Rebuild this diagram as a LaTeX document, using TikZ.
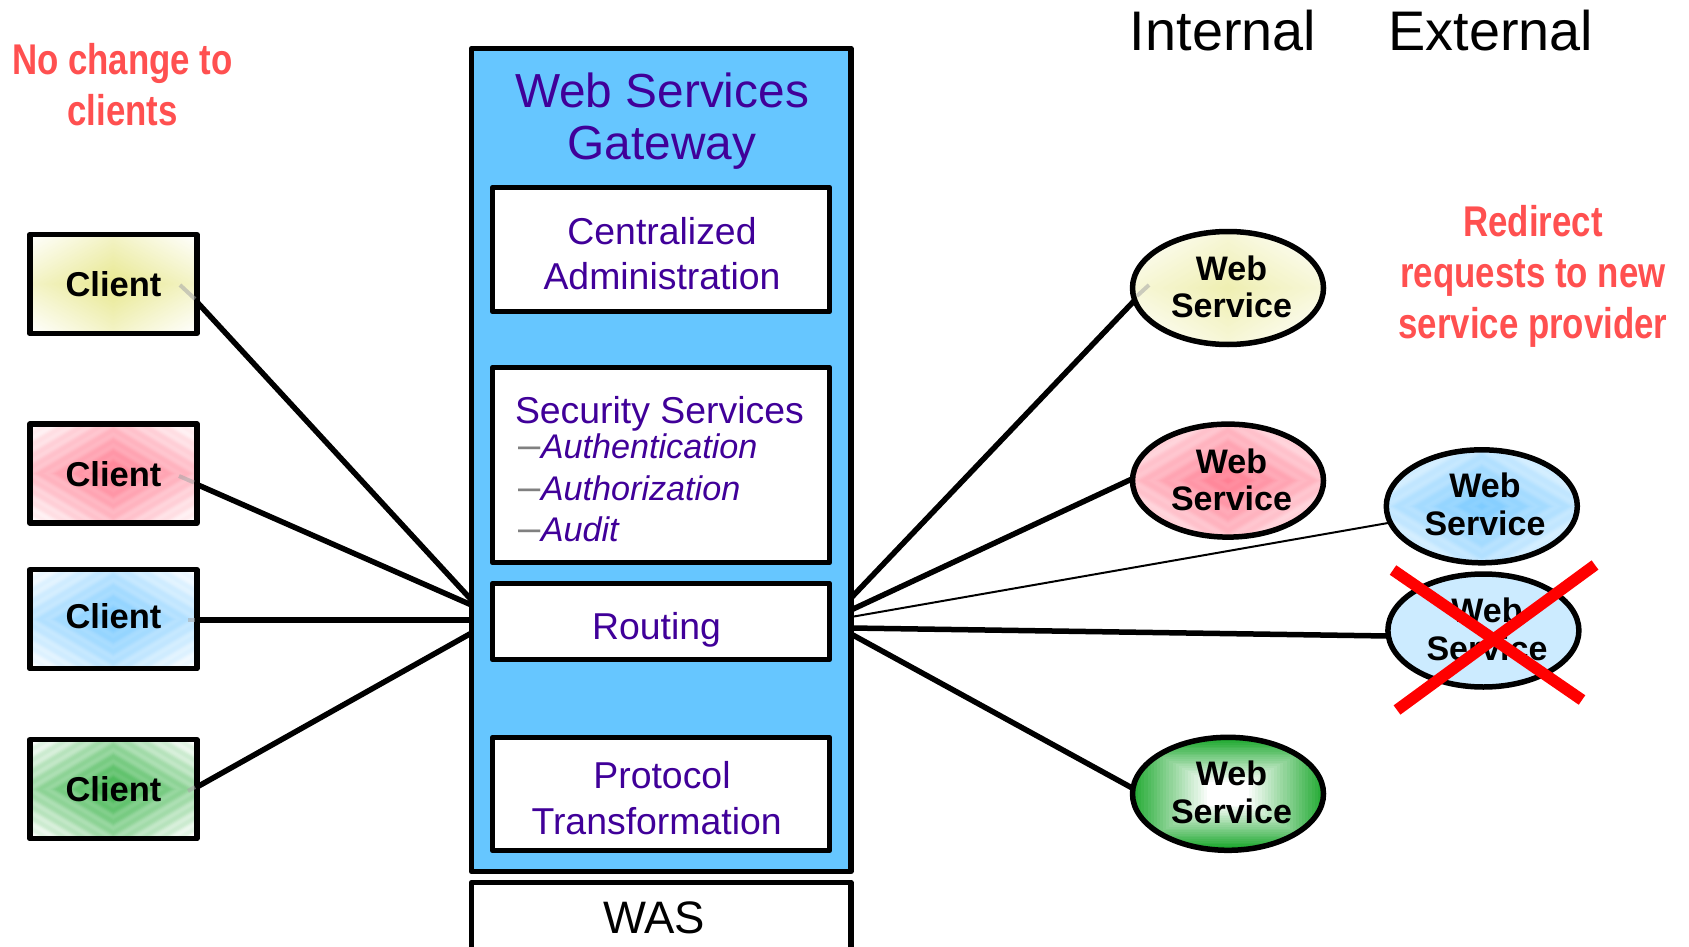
\documentclass[tikz,border=0pt]{standalone}
\usepackage{fontspec}
\setmainfont{Liberation Sans}
\newfontfamily\narrowfont[FakeStretch=0.81,BoldFont={Liberation Sans Bold}]{Liberation Sans}
\newcommand{\setfs}[2]{\fontsize{#1}{#2}\selectfont}
\definecolor{gwblue}{HTML}{66C6FF}
\definecolor{indigo}{HTML}{400099}
\definecolor{note}{HTML}{FF5050}
\definecolor{baseyellow}{HTML}{E8E890}
\definecolor{basered}{HTML}{FF8094}
\definecolor{baseblue}{HTML}{7FCCFF}
\definecolor{basegreen}{HTML}{22AA33}
\definecolor{flatblue}{HTML}{CCEBFF}
\newcommand{\diamondbands}[5]{%
  \begin{scope}[shift={(path picture bounding box.center)}]
  \foreach \k in {0,...,79}{%
    \pgfmathsetmacro\dd{2*(1-\k/80)}%
    \pgfmathsetmacro\pp{max(0,min(100,#4*(1-\dd/2)+#5*cos(\dd*1600)))}%
    \fill[#1!\pp!white] (\dd*#2,0)--(0,\dd*#3)--(-\dd*#2,0)--(0,-\dd*#3)--cycle;
  }%
  \end{scope}}
\newcommand{\rectbands}[3]{%
  \begin{scope}[shift={(path picture bounding box.center)}]
  \foreach \k in {0,...,24}{%
    \pgfmathsetmacro\ss{1-\k/24*0.78}%
    \pgfmathsetmacro\pp{100*(1-\k/24)}%
    \fill[#1!\pp!white] (-\ss*#2,-\ss*#3*.95) rectangle (\ss*#2,\ss*#3*.95);
  }%
  \end{scope}}
\tikzset{
  every node/.style={inner sep=0pt,outer sep=0pt},
  frame/.style={draw=black,line width=5.5pt,line join=round,rectangle,fill=white},
  clientbox/.style={frame,minimum width=167pt,minimum height=99pt},
  innerbox/.style={frame,minimum width=337pt},
  svc/.style={ellipse,draw=black,line width=5.5pt,minimum width=191pt,minimum height=113pt},
  boxlabel/.style={font=\bfseries\setfs{34.5}{38},text=black,align=center},
  gwtext/.style={text=indigo,align=center,font=\setfs{37.4}{45.5}},
  subtext/.style={text=indigo,anchor=base west,font=\itshape\setfs{34.2}{36}},
  notetext/.style={text=note,align=center,font=\narrowfont\bfseries\setfs{43}{51}},
  head/.style={text=black,anchor=base,font=\setfs{55.8}{60}},
  thick link/.style={draw=black,line width=5.5pt},
  thin link/.style={draw=black,line width=2pt},
  stub/.style={draw=gray!70,line width=4pt,opacity=.55},
  cross/.style={draw=red,line width=11.5pt}
}
\usetikzlibrary{shapes.geometric}
\begin{document}
\begin{tikzpicture}[x=1pt,y=-1pt]
\clip (0,0) rectangle (1689,947);
\useasboundingbox (0,0) rectangle (1689,947);

% notes and headings
\node[notetext] (notea) at (122.5,85) {No change to\\clients};
\node[notetext] (noteb) at (1533,276) {Redirect\\requests to new\\service provider};
\node[head] (internal) at (1223,51) {Internal};
\node[head] (external) at (1491,51) {External};

% gateway
\node[frame,fill=gwblue,minimum width=379.5pt,minimum height=823pt] (gw) at (661.25,460) {};
\node[frame,minimum width=379.5pt,minimum height=100pt] (wasbox) at (661.25,932.5) {};
\node[anchor=base,text=black,font=\setfs{45.5}{50}] (was) at (654,933) {WAS};
\node[text=indigo,align=center,font=\setfs{47.8}{52}] (gwtitle) at (662,121) {Web Services\\Gateway};

\node[innerbox,minimum height=124pt] (admin) at (661,249.5) {};
\node[gwtext] (admintext) at (662,253.5) {Centralized\\Administration};
\node[innerbox,minimum height=195pt] (sec) at (661,465) {};
\node[anchor=base west,text=indigo,font=\setfs{37.4}{40}] (sectitle) at (515,423) {Security Services};
\node[subtext] (s1) at (518.5,458.5) {{\color{gray}\upshape\setfs{40}{36}–}Authentication};
\node[subtext] (s2) at (518.5,500.6) {{\color{gray}\upshape\setfs{40}{36}–}Authorization};
\node[subtext] (s3) at (518.5,541.7) {{\color{gray}\upshape\setfs{40}{36}–}Audit};
\node[innerbox,minimum height=76pt] (route) at (661,621.5) {};
\node[anchor=base,text=indigo,font=\setfs{37.4}{40}] (routetext) at (656.6,639) {Routing};
\node[innerbox,minimum height=113pt] (proto) at (661,794) {};
\node[gwtext] (prototext) at (659.3,798) {\hspace*{5.4pt}Protocol\\Transformation\hspace*{5.4pt}};

% clients
\node[clientbox,path picture={\diamondbands{baseyellow}{83.5}{49.5}{100}{0}}] (c1) at (113.3,284) {};
\node[clientbox,path picture={\diamondbands{basered}{83.5}{49.5}{100}{5}}] (c2) at (113.3,473.5) {};
\node[clientbox,path picture={\diamondbands{baseblue}{83.5}{49.5}{100}{5}}] (c3) at (113.3,619.2) {};
\node[clientbox,path picture={\diamondbands{basegreen}{83.5}{49.5}{85}{5}}] (c4) at (113.3,789.2) {};
\node[boxlabel,anchor=base] (c1t) at (113.5,296) {Client};
\node[boxlabel,anchor=base] (c2t) at (113.5,486) {Client};
\node[boxlabel,anchor=base] (c3t) at (113.5,628) {Client};
\node[boxlabel,anchor=base] (c4t) at (113.5,801) {Client};

% services
\node[svc,path picture={\diamondbands{baseyellow}{96}{57}{70}{0}}] (w1) at (1228,288) {};
\node[svc,path picture={\diamondbands{basered}{96}{57}{100}{5}}] (w2) at (1228,480.6) {};
\node[svc,path picture={\diamondbands{baseblue}{96}{57}{100}{5}}] (w3) at (1481.8,506.3) {};
\node[svc,fill=flatblue] (w4) at (1483.4,630.5) {};
\node[svc,path picture={\rectbands{basegreen}{96}{57}}] (w5) at (1228,793.8) {};
\node[boxlabel,font=\bfseries\setfs{34}{37.5}] (w1t) at (1231.5,287) {Web\\Service};
\node[boxlabel,font=\bfseries\setfs{34}{37.5}] (w2t) at (1231.5,480) {Web\\Service};
\node[boxlabel,font=\bfseries\setfs{34}{37.5}] (w3t) at (1485,504.5) {Web\\Service};
\node[boxlabel,font=\bfseries\setfs{34}{37.5}] (w4t) at (1487,629.5) {Web\\Service};
\node[boxlabel,font=\bfseries\setfs{34}{37.5}] (w5t) at (1231.5,792.5) {Web\\Service};

% connector ends
\coordinate (c1e) at (197,302);
\coordinate (c2e) at (197,484.5);
\coordinate (c3e) at (197,620);
\coordinate (c4e) at (197,787);
\coordinate (gl1) at (471.5,600);
\coordinate (gl2) at (471.5,605);
\coordinate (gl3) at (471.5,620);
\coordinate (gl4) at (471.5,633);
\coordinate (gr1) at (851,598);
\coordinate (gr2) at (851,610);
\coordinate (gr3) at (851,617);
\coordinate (gr4) at (851,628);
\coordinate (gr5) at (851,634);
\coordinate (w1w) at (1134,301);
\coordinate (w2w) at (1134,478);
\coordinate (w3w) at (1388,523);
\coordinate (w4w) at (1388,636);
\coordinate (w5w) at (1134,789);
\coordinate (s1a) at (180,285);
\coordinate (s1b) at (195,299);
\coordinate (s2a) at (179,476);
\coordinate (s2b) at (194,482.5);
\coordinate (s3a) at (188,620);
\coordinate (s3b) at (195,620);
\coordinate (s4a) at (188,791);
\coordinate (s4b) at (195,787);
\coordinate (s5a) at (1137,296);
\coordinate (s5b) at (1149,285);

% connectors
\draw[thick link] (c1e) -- (gl1);
\draw[thick link] (c2e) -- (gl2);
\draw[thick link] (c3e) -- (gl3);
\draw[thick link] (c4e) -- (gl4);
\draw[thick link] (gr1) -- (w1w);
\draw[thick link] (gr2) -- (w2w);
\draw[thin link] (gr3) -- (w3w);
\draw[thick link] (gr4) -- (w4w);
\draw[thick link] (gr5) -- (w5w);
\draw[stub] (s1a) -- (s1b);
\draw[stub] (s2a) -- (s2b);
\draw[stub] (s3a) -- (s3b);
\draw[stub] (s4a) -- (s4b);
\draw[stub] (s5a) -- (s5b);

% cross over the retired service
\coordinate (xa) at (1393,570);
\coordinate (xb) at (1582,700);
\coordinate (xc) at (1595,565);
\coordinate (xd) at (1397,710);
\draw[cross] (xa) -- (xb);
\draw[cross] (xc) -- (xd);
\end{tikzpicture}
\end{document}
